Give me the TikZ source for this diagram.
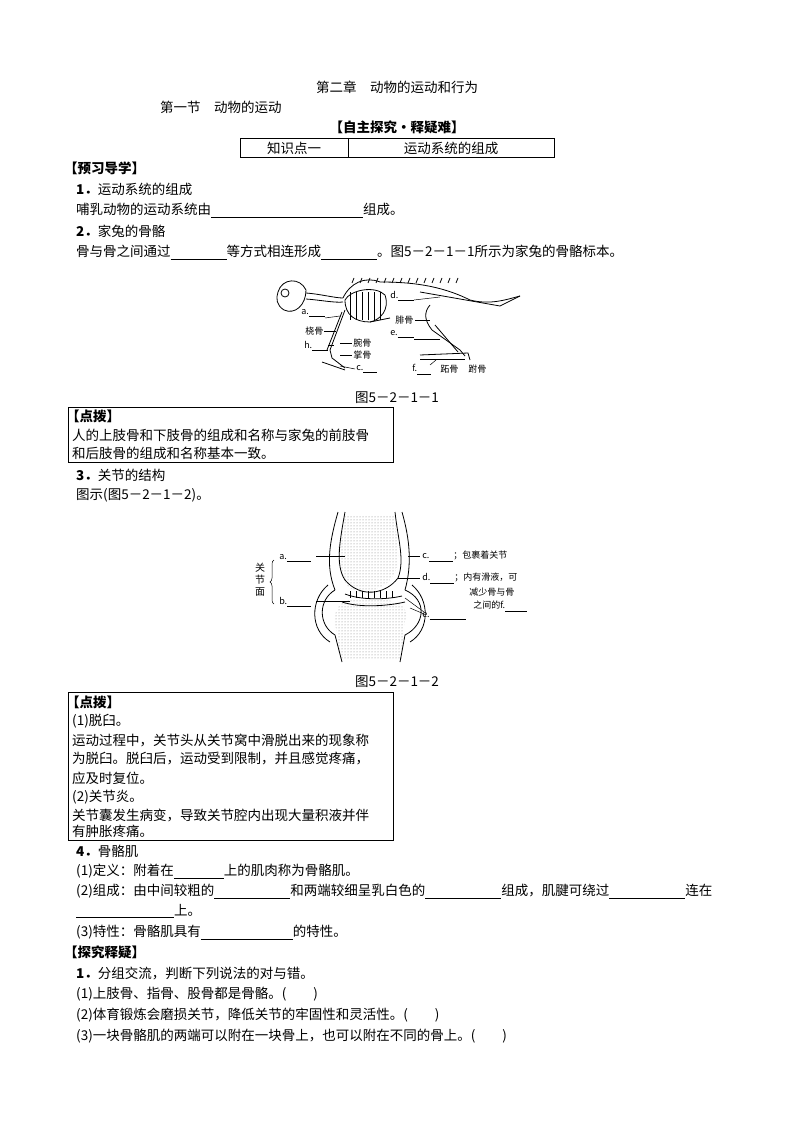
\documentclass[tikz,border=0pt]{standalone}
\usepackage{fontspec}
\setmainfont{Noto Sans CJK SC}
\usetikzlibrary{patterns,decorations.pathreplacing}
\newcommand{\blank}[1]{\rule[-3pt]{#1pt}{0.6pt}}
\begin{document}
\begin{tikzpicture}[x=1pt,y=-1pt,
  t/.style={anchor=west,inner sep=0pt,font=\fontsize{13.5}{13.5}\selectfont},
  tb/.style={t,font=\fontsize{13.5}{13.5}\selectfont\bfseries},
  sm/.style={anchor=west,inner sep=0pt,font=\fontsize{9}{9}\selectfont},
  bx/.style={draw,line width=0.7pt},
  bone/.style={line width=0.8pt}]
\useasboundingbox (0,0) rectangle (794,1123);
\fill[white] (0,0) rectangle (794,1123);
% headings
\node[t,anchor=center] (h1) at (397,87) {第二章\quad 动物的运动和行为};
\node[t] (h2) at (160,107) {第一节\quad 动物的运动};
\node[tb,anchor=center] (h3) at (397,127) {【自主探究·释疑难】};
\draw[bx] (240,138) rectangle (554,157);
\draw[bx] (348,138) -- (348,157);
\node[t,anchor=center] (k1) at (294,148) {知识点一};
\node[t,anchor=center] (k2) at (451,148) {运动系统的组成};
\node[tb] (y1) at (64,168) {【预习导学】};
\node[t] (l1) at (76,189) {\textbf{1．}运动系统的组成};
\node[t] (l2) at (76,210) {哺乳动物的运动系统由\blank{152}组成。};
\node[t] (l3) at (76,231) {\textbf{2．}家兔的骨骼};
\node[t] (l4) at (76,252) {骨与骨之间通过\blank{56}等方式相连形成\blank{56}。图5－2－1－1所示为家兔的骨骼标本。};
% rabbit skeleton
\begin{scope}[bone]
\draw (278,292) .. controls (282,278) and (300,277) .. (306,290) .. controls (306,305) and (295,315) .. (284,310) .. controls (276,305) and (276,298) .. (278,292);
\draw (285,293) circle (4);
\draw (306,293) .. controls (320,294) and (335,298) .. (343,298);
\draw (306,299) .. controls (320,300) and (335,303) .. (343,302);
\draw (343,298) .. controls (350,283) and (365,276) .. (380,282) .. controls (410,282) and (440,285) .. (470,300) .. controls (490,305) and (505,300) .. (520,296);
\foreach \i in {352,360,...,460}{\draw (\i,283) -- ++(2,-5);}
\draw (345,300) .. controls (350,290) and (375,285) .. (385,295) .. controls (390,310) and (380,320) .. (370,322) .. controls (355,322) and (345,315) .. (345,300);
\foreach \i in {350,356,...,382}{\draw (\i,292) -- (\i,320);}
\draw (370,322) -- (390,318);
\draw (345,310) -- (330,350) -- (332,358) -- (345,368);
\draw (342,312) -- (327,350);
\draw (322,362) -- (345,370);
\draw (430,305) .. controls (424,312) and (424,320) .. (432,330) -- (460,350) -- (465,356);
\draw (435,325) -- (458,352);
\draw (420,355) -- (468,353) -- (470,360);
\draw (420,359) -- (465,359);
\draw (420,292) -- (500,306) -- (520,296);
\end{scope}
\begin{scope}[line width=0.5pt]
\node[sm] (ra) at (301,313) {a.\blank{16}};
\draw (325,318) -- (340,316);
\node[sm] (rb) at (305,331) {桡骨};
\draw (324,331) -- (336,331);
\node[sm] (rh) at (304,346) {h.\blank{16}};
\draw (328,345) -- (334,345);
\node[sm] (rw) at (353,343) {腕骨};
\draw (340,343) -- (352,343);
\node[sm] (rz) at (353,355) {掌骨};
\draw (340,355) -- (352,355);
\node[sm] (rc) at (356,369) {c.\blank{14}};
\draw (340,366) -- (355,369);
\node[sm] (rd) at (390,296) {d.\blank{16}};
\draw (414,300) -- (440,297);
\node[sm] (rf1) at (395,320) {腓骨};
\draw (415,320) -- (430,320);
\node[sm] (re) at (390,334) {e.\blank{16}};
\draw (414,339) -- (440,339);
\node[sm] (rf) at (412,369) {f.\blank{14}};
\draw (430,365) -- (436,360);
\node[sm] (rzg) at (440,369) {跖骨};
\node[sm] (rfg) at (468,369) {跗骨};
\end{scope}
\node[t,anchor=center] (c1) at (397,398) {图5－2－1－1};
% box 1
\draw[bx] (68,407) rectangle (393,462);
\node[tb] (d1) at (66,416) {【点拨】};
\node[t] (d2) at (72,435) {人的上肢骨和下肢骨的组成和名称与家兔的前肢骨};
\node[t] (d3) at (72,453) {和后肢骨的组成和名称基本一致。};
\node[t] (l5) at (76,475) {\textbf{3．}关节的结构};
\node[t] (l6) at (76,495) {图示(图5－2－1－2)。};
% joint
\begin{scope}[bone]
\fill[pattern=dots,pattern color=gray] (340,540) .. controls (335,560) and (340,590) .. (360,592) .. controls (385,592) and (402,575) .. (398,548) -- (395,515) -- (345,515) -- cycle;
\fill[pattern=dots,pattern color=gray] (340,660) -- (335,620) .. controls (335,600) and (350,598) .. (370,600) .. controls (395,598) and (410,605) .. (405,620) -- (402,660) -- cycle;
\draw (345,512) .. controls (340,540) and (335,565) .. (345,580) .. controls (360,598) and (385,595) .. (398,578) .. controls (405,560) and (398,540) .. (395,512);
\draw (338,512) .. controls (330,540) and (325,565) .. (335,590);
\draw (402,512) .. controls (410,540) and (412,565) .. (405,590);
\draw (345,594) .. controls (360,600) and (385,600) .. (402,596);
\draw (342,602) .. controls (360,608) and (388,606) .. (405,602);
\draw (335,590) .. controls (318,600) and (318,625) .. (335,635) -- (342,662);
\draw (405,590) .. controls (428,600) and (425,625) .. (405,635) -- (400,662);
\draw (328,585) .. controls (310,600) and (310,630) .. (330,642);
\draw (412,585) .. controls (430,600) and (430,630) .. (410,642);
\foreach \i in {350,356,...,396}{\draw[line width=0.4pt] (\i,591) -- (\i,598);}
\end{scope}
\begin{scope}[line width=0.5pt]
\node[t,font=\fontsize{10}{12}\selectfont,align=center,anchor=center] (gm) at (260,580) {关\\节\\面};
\draw[decorate,decoration={brace,amplitude=4pt,mirror}] (274,560) -- (274,604);
\node[sm] (ja) at (279,558) {a.\blank{24}};
\draw (316,556) -- (345,556);
\node[sm] (jb) at (279,602) {b.\blank{24}};
\draw (316,601) -- (350,601);
\node[sm] (jc) at (422,556) {c.\blank{24}；包裹着关节};
\draw (408,556) -- (420,556);
\node[sm] (jd) at (422,578) {d.\blank{24}；内有滑液，可};
\draw (398,578) -- (420,578);
\node[sm] (jd3) at (469,592) {减少骨与骨};
\node[sm] (jd4) at (473,606) {之间的f.\blank{22}};
\node[sm] (je) at (422,616) {e.\blank{36}};
\draw (405,598) -- (424,612) (410,608) -- (424,614);
\end{scope}
\node[t,anchor=center] (c2) at (397,682) {图5－2－1－2};
% box 2
\draw[bx] (68,692) rectangle (393,840);
\node[tb] (e1) at (66,702) {【点拨】};
\node[t] (e2) at (72,721) {(1)脱臼。};
\node[t] (e3) at (72,740) {运动过程中，关节头从关节窝中滑脱出来的现象称};
\node[t] (e4) at (72,759) {为脱臼。脱臼后，运动受到限制，并且感觉疼痛，};
\node[t] (e5) at (72,778) {应及时复位。};
\node[t] (e6) at (72,797) {(2)关节炎。};
\node[t] (e7) at (72,815) {关节囊发生病变，导致关节腔内出现大量积液并伴};
\node[t] (e8) at (72,831) {有肿胀疼痛。};
% section 4
\node[t] (f1) at (76,851) {\textbf{4．}骨骼肌};
\node[t] (f2) at (76,871) {(1)定义：附着在\blank{50}上的肌肉称为骨骼肌。};
\node[t] (f3) at (76,891) {(2)组成：由中间较粗的\blank{76}和两端较细呈乳白色的\blank{76}组成，肌腱可绕过\blank{76}连在};
\node[t] (f4) at (76,911) {\blank{98}上。};
\node[t] (f5) at (76,932) {(3)特性：骨骼肌具有\blank{92}的特性。};
\node[tb] (g1) at (64,952) {【探究释疑】};
\node[t] (g2) at (76,973) {\textbf{1．}分组交流，判断下列说法的对与错。};
\node[t] (g3) at (76,994) {(1)上肢骨、指骨、股骨都是骨骼。(\qquad)};
\node[t] (g4) at (76,1015) {(2)体育锻炼会磨损关节，降低关节的牢固性和灵活性。(\qquad)};
\node[t] (g5) at (76,1036) {(3)一块骨骼肌的两端可以附在一块骨上，也可以附在不同的骨上。(\qquad)};
\end{tikzpicture}
\end{document}
